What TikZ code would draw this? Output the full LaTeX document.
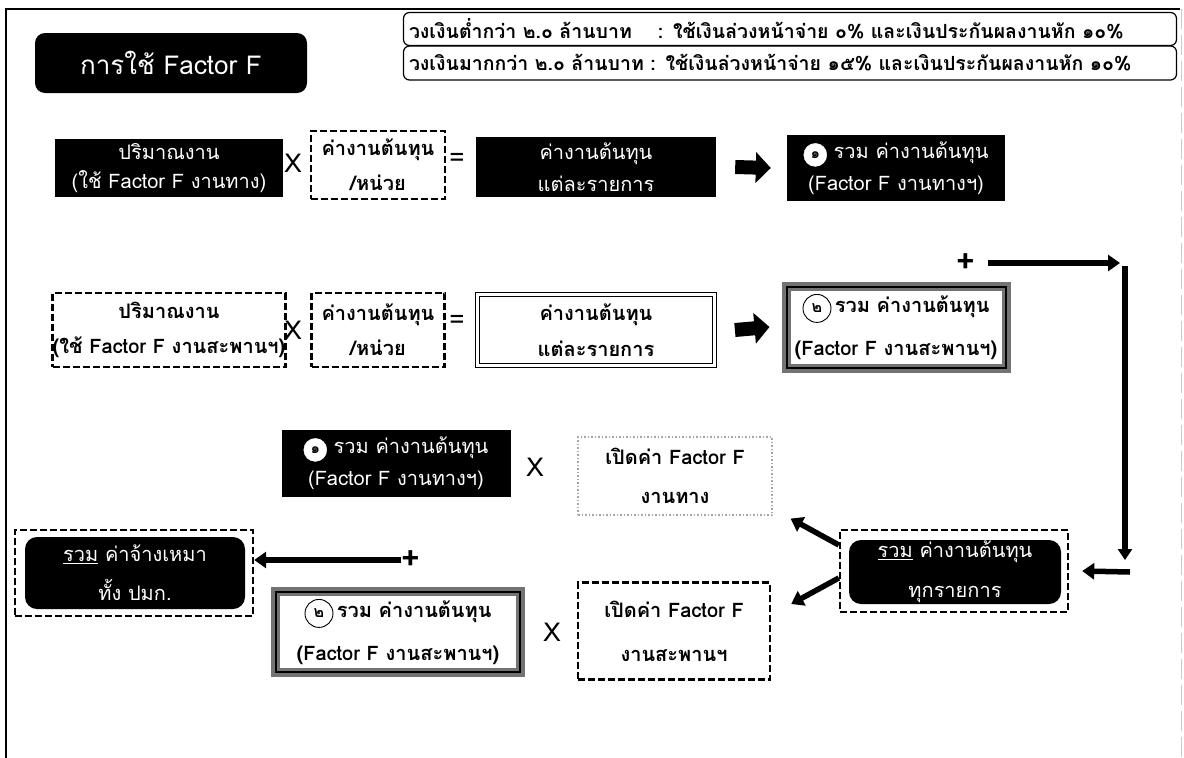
\documentclass[tikz,border=0pt]{standalone}
\usepackage{fontspec}
\setmainfont{Loma}[Script=Thai]
\usetikzlibrary{arrows.meta}
\newcommand\cnumw[1]{\tikz[baseline=(c.base)]\node[circle,fill=white,draw=white,text=black,inner sep=0pt,minimum size=23pt,font=\bfseries\fontsize{15}{15}\selectfont](c){#1};}
\newcommand\cnumo[1]{\tikz[baseline=(c.base)]\node[circle,draw=black,line width=0.9pt,text=black,inner sep=0pt,minimum size=28pt,font=\bfseries\fontsize{16}{16}\selectfont](c){#1};}
\newcommand\fs[1]{\fontsize{20}{#1}\selectfont}
\begin{document}
\begin{tikzpicture}[x=1pt,y=-1pt,
  every node/.style={font=\fs{34}, align=center, inner sep=0pt},
  blk/.style={fill=black, text=white},
  rblk/.style={fill=black, text=white, rounded corners=12pt},
  dshline/.style={draw=black, dash pattern=on 7pt off 3pt, line width=2.4pt},
  dsh/.style={dshline, font=\bfseries\fs{35}},
  dot/.style={draw=gray!70, dash pattern=on 1.5pt off 2pt, line width=1.2pt, font=\bfseries\fs{39}},
  gbox/.style={draw=black!55, line width=9pt, font=\bfseries\fs{43}},
  inner/.style={line width=2pt},
  dbl/.style={draw=black, double, double distance=2.5pt, line width=0.8pt, font=\bfseries\fs{36}},
  info/.style={draw=black, line width=1.2pt, rounded corners=6pt, minimum width=773pt, text width=762pt, align=left, font=\bfseries\fontsize{19.5}{22}\selectfont},
  op/.style={font=\fontsize{26}{26}\selectfont},
  pl/.style={font=\bfseries\fontsize{32}{32}\selectfont},
  big/.style={line width=14pt, -{Triangle[length=15pt,width=30pt]}},
  thn/.style={line width=5.5pt, -{Triangle[length=12pt,width=16pt]}},
  dia/.style={line width=5.5pt, -{Triangle[length=12pt,width=16pt]}}
]
\useasboundingbox (0,0) rectangle (1184,758);
% frame
\draw[line width=1.5pt] (1180,9) -- (6,9) -- (6,758);
\draw[gray!40, line width=1pt, dash pattern=on 20pt off 6pt] (1181,9) -- (1181,758);

% title and info
\node[rblk, minimum width=272pt, minimum height=60pt, rounded corners=10pt, font=\fontsize{26}{26}\selectfont] (title) at (171,63) {การใช้ Factor F};
\node[info, minimum height=33pt] (info1) at (790,29) {วงเงินต่ำกว่า ๒.๐ ล้านบาท\ \ \ \ : ใช้เงินล่วงหน้าจ่าย ๐\% และเงินประกันผลงานหัก ๑๐\%};
\node[info, minimum height=34pt] (info2) at (790,63) {วงเงินมากกว่า ๒.๐ ล้านบาท : ใช้เงินล่วงหน้าจ่าย ๑๕\% และเงินประกันผลงานหัก ๑๐\%};

% row 1
\node[blk, minimum width=228pt, minimum height=58pt, font=\fs{29}] (A1) at (169,168) {ปริมาณงาน\\(ใช้ Factor F งานทาง)};
\node[op] (x1) at (293,163) {X};
\node[dsh, minimum width=134pt, minimum height=68pt] (B1) at (378,165) {ค่างานต้นทุน\\/หน่วย};
\node[op] (e1) at (457,160) {=};
\node[blk, minimum width=240pt, minimum height=60pt, font=\fs{32}] (C1) at (596,167) {ค่างานต้นทุน\\แต่ละรายการ};
\node[blk, minimum width=218pt, minimum height=66pt, font=\fs{32}] (D1) at (896,168) {\cnumw{๑} รวม ค่างานต้นทุน\\(Factor F งานทางฯ)};
\draw[big] ([xshift=19pt]C1.east) -- ([xshift=-16pt]D1.west);

% row 2
\node[dsh, minimum width=228pt, minimum height=74pt] (A2) at (169,330) {ปริมาณงาน\\(ใช้ Factor F งานสะพานฯ)};
\node[op] (x2) at (293,330) {X};
\node[dsh, minimum width=133pt, minimum height=74pt] (B2) at (378,330) {ค่างานต้นทุน\\/หน่วย};
\node[op] (e2) at (457,322) {=};
\node[dbl, minimum width=237pt, minimum height=71pt] (C2) at (596,330) {ค่างานต้นทุน\\แต่ละรายการ};
\node[gbox, minimum width=220pt, minimum height=82pt] (D2) at (896,327) {\cnumo{๒}\,รวม ค่างานต้นทุน\\(Factor F งานสะพานฯ)};
\draw[inner] ([xshift=5pt,yshift=-5pt]D2.north west) rectangle ([xshift=-5pt,yshift=5pt]D2.south east);
\draw[big] ([xshift=20pt]C2.east) -- ([xshift=-12pt]D2.west);

% right connector
\node[pl] (p1) at (966,263) {+};
\coordinate (r1) at (1120,263);
\coordinate (r2) at (1125,266);
\coordinate (r3) at (1125,560);
\coordinate (r4) at (1130,572);
\draw[thn] ([xshift=12pt]p1.east) -- (r1);
\draw[line width=5.5pt, -{Triangle[length=11pt,width=14pt]}] (r2) -- (r3);

% total box
\node[dshline, minimum width=228pt, minimum height=82pt] (G) at (954,571) {};
\node[rblk, minimum width=212pt, minimum height=64pt, font=\fs{40}] (Gi) at (955,572) {\underline{รวม} ค่างานต้นทุน\\ทุกรายการ};
\draw[thn] (r4) -- ([xshift=13pt]G.east);

% row 3
\node[blk, minimum width=229pt, minimum height=67pt, font=\fs{32}] (E1) at (396,463) {\cnumw{๑} รวม ค่างานต้นทุน\\(Factor F งานทางฯ)};
\node[op] (x3) at (535,467) {X};
\node[dot, minimum width=194pt, minimum height=78pt] (F1) at (675,476) {เปิดค่า Factor F\\งานทาง};
\node[gbox, minimum width=245pt, minimum height=81pt] (E2) at (398,632) {\cnumo{๒}\,รวม ค่างานต้นทุน\\(Factor F งานสะพานฯ)};
\draw[inner] ([xshift=5pt,yshift=-5pt]E2.north west) rectangle ([xshift=-5pt,yshift=5pt]E2.south east);
\node[op] (x4) at (552,632) {X};
\node[dsh, minimum width=192pt, minimum height=97pt, font=\bfseries\fs{44}] (F2) at (674,631) {เปิดค่า Factor F\\งานสะพานฯ};

\draw[dia] ([yshift=26pt]G.west) -- ([xshift=18pt,yshift=-3pt]F1.south east);
\draw[dia] ([yshift=-7pt]G.west) -- ([xshift=20pt,yshift=27pt]F2.east);

% final
\node[dshline, minimum width=238pt, minimum height=86pt] (H) at (134,573) {};
\node[rblk, minimum width=220pt, minimum height=72pt, font=\fs{39}] (Hi) at (135,573) {\underline{รวม} ค่าจ้างเหมา\\ทั้ง ปมก.};
\node[pl] (p2) at (411,560) {+};
\draw[thn] (p2.west) -- (p2.west -| H.east);
\end{tikzpicture}
\end{document}
